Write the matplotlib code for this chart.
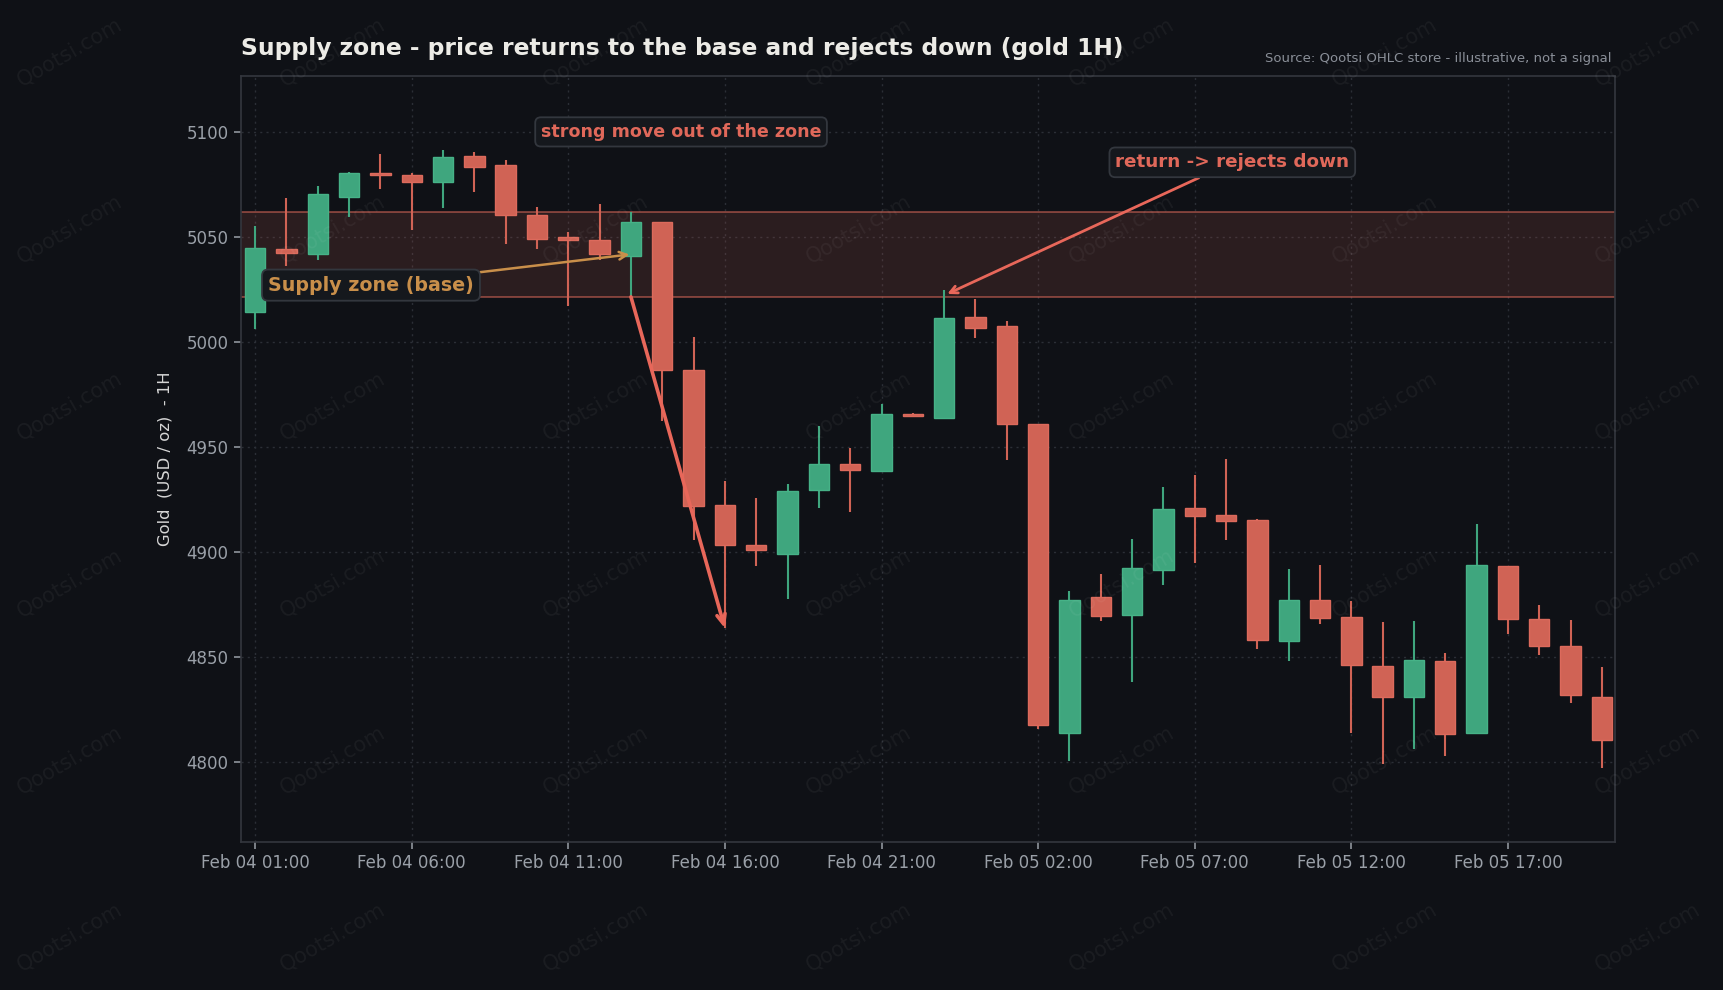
import numpy as np
import pandas as pd
import matplotlib
matplotlib.use("Agg")
import matplotlib.pyplot as plt
import matplotlib.dates as mdates

# --- OHLC data (gold, 1H) ---
times = pd.date_range("2026-02-04 01:00", periods=44, freq="h")
opens = [5014.0, 5044.4, 5041.6, 5069.2, 5080.6, 5079.7, 5075.9, 5088.3, 5084.4, 5060.2,
         5049.7, 5048.7, 5041.1, 5057.1, 4986.7, 4922.2, 4903.2, 4899.0, 4929.2, 4941.9,
         4938.6, 4965.6, 4963.8, 5011.7, 5007.5, 4960.8, 4813.8, 4878.5, 4870.0, 4891.4,
         4920.7, 4917.6, 4915.2, 4857.6, 4877.1, 4869.0, 4845.7, 4830.9, 4848.1, 4813.4,
         4893.2, 4868.1, 4855.2, 4831.0]
highs = [5055.1, 5068.7, 5074.1, 5080.8, 5089.7, 5080.2, 5091.3, 5090.6, 5086.8, 5064.0,
         5052.2, 5065.6, 5061.6, 5057.1, 5002.1, 4933.5, 4925.4, 4932.4, 4959.7, 4949.5,
         4970.5, 4965.9, 5024.8, 5020.2, 5009.7, 4961.0, 4881.4, 4889.5, 4905.9, 4931.0,
         4936.3, 4944.2, 4915.4, 4891.6, 4893.5, 4876.3, 4866.3, 4866.8, 4851.5, 4913.4,
         4893.4, 4874.4, 4867.3, 4844.9]
lows = [5006.2, 5036.2, 5039.0, 5059.5, 5072.9, 5053.3, 5063.8, 5071.4, 5046.7, 5044.3,
        5017.1, 5039.0, 5021.4, 4962.2, 4905.6, 4863.5, 4893.2, 4877.3, 4920.8, 4918.9,
        4938.4, 4964.5, 4963.6, 5001.6, 4943.5, 4815.7, 4800.2, 4866.9, 4837.7, 4884.2,
        4894.6, 4905.6, 4853.6, 4847.9, 4865.5, 4813.7, 4799.0, 4806.0, 4802.7, 4813.2,
        4860.6, 4850.6, 4827.9, 4797.0]
closes = [5044.9, 5042.5, 5070.2, 5080.6, 5079.7, 5076.3, 5088.1, 5083.5, 5060.2, 5049.2,
          5048.3, 5041.6, 5057.1, 4986.7, 4921.7, 4903.3, 4900.6, 4929.0, 4941.9, 4939.0,
          4965.6, 4964.8, 5011.3, 5006.7, 4961.0, 4817.3, 4877.1, 4869.5, 4892.4, 4920.4,
          4917.1, 4914.7, 4858.1, 4877.1, 4868.5, 4846.2, 4830.9, 4848.6, 4812.9, 4893.8,
          4867.8, 4855.2, 4831.9, 4810.5]

base_idx = 12        # base candle of the supply zone
retest_idx = 22      # candle that returns into the zone
impulse_end_idx = 15 # low of the move out of the zone

BG = "#0f1116"
GREEN = "#3fa67e"
GREEN_EDGE = "#46b287"
RED = "#d06355"
RED_EDGE = "#dc6a5c"
GRID = "#2b2f36"
SPINE = "#34373e"
TICK = "#9aa0a8"

x = mdates.date2num(times)
hour = 1 / 24
w = 0.65 * hour

fig = plt.figure(figsize=(17.24, 9.9), dpi=100, facecolor=BG)
ax = fig.add_axes([0.1398, 0.1495, 0.797, 0.7737])
ax.set_facecolor(BG)

# supply zone = range of the base candle
zone_lo = lows[base_idx]
zone_hi = highs[base_idx]
ax.axhspan(zone_lo, zone_hi, color=RED, alpha=0.15, lw=0, zorder=1)
ax.axhline(zone_lo, color=RED, alpha=0.6, lw=1.3, zorder=1.5)
ax.axhline(zone_hi, color=RED, alpha=0.6, lw=1.3, zorder=1.5)

# candles
for xi, o, h, l, c in zip(x, opens, highs, lows, closes):
    up = c >= o
    col = GREEN if up else RED
    ec = GREEN_EDGE if up else RED_EDGE
    ax.vlines(xi, l, h, color=col, lw=1.5, zorder=2)
    body = max(abs(c - o), 0.8)
    ax.bar(xi, body, width=w, bottom=min(o, c), color=col, edgecolor=ec, lw=1.0, zorder=3)

# axes styling
rng = max(highs) - min(lows)
ax.set_ylim(min(lows) - 0.12 * rng, max(highs) + 0.12 * rng)
ax.set_xlim(x[0] - 0.45 * hour, x[-1] + 0.42 * hour)
ax.set_yticks([4800, 4850, 4900, 4950, 5000, 5050, 5100])
ax.set_xticks(x[::5])
ax.xaxis.set_major_formatter(mdates.DateFormatter("%b %d %H:%M"))
ax.grid(True, color=GRID, ls=(0, (1.5, 3)), lw=1.0)
ax.set_axisbelow(True)
for s in ax.spines.values():
    s.set_color(SPINE)
    s.set_linewidth(1.2)
ax.tick_params(colors=TICK, labelsize=12, length=5, width=1.1, pad=4)
ax.set_ylabel("Gold  (USD / oz)  - 1H", color="#d6d6d6", fontsize=11.8, labelpad=10)

ax.set_title("Supply zone - price returns to the base and rejects down (gold 1H)",
             loc="left", color="#ecebe6", fontsize=16.8, fontweight="bold", pad=15)
fig.text(0.9345, 0.9405, "Source: Qootsi OHLC store - illustrative, not a signal",
         ha="right", va="center", color="#8a8f98", fontsize=9.5)

box = dict(boxstyle="round,pad=0.32", fc="#15181d", ec="#33373e", lw=1.3)

# base label
ax.annotate("Supply zone (base)", xy=(x[base_idx] - 0.05 * hour, opens[base_idx] + 0.5),
            xytext=(x[0] + 3.7 * hour, 5027.0), color="#c98f4a", fontsize=13.7,
            fontweight="bold", ha="center", va="center", bbox=box, zorder=6,
            arrowprops=dict(arrowstyle="->", color="#c98f4a", lw=1.8,
                            shrinkA=0, shrinkB=0))

# impulse out of the zone
ax.annotate("", xy=(x[impulse_end_idx], lows[impulse_end_idx]),
            xytext=(x[base_idx], zone_lo),
            arrowprops=dict(arrowstyle="->,head_width=0.3,head_length=0.7",
                            color="#e8675a", lw=2.6, shrinkA=0, shrinkB=0), zorder=6)
ax.text(x[0] + 13.6 * hour, 5100.0, "strong move out of the zone", color="#e0685a",
        fontsize=12.6, fontweight="bold", ha="center", va="center", bbox=box, zorder=6)

# return to the zone
ax.annotate("return -> rejects down", xy=(x[retest_idx] + 0.1 * hour, highs[retest_idx] - 2),
            xytext=(x[0] + 31.2 * hour, 5085.5), color="#e0685a", fontsize=13.2,
            fontweight="bold", ha="center", va="center", bbox=box, zorder=6,
            arrowprops=dict(arrowstyle="->", color="#e8675a", lw=2.0,
                            shrinkA=0, shrinkB=0))

# watermark
for cx in np.arange(70, 1724, 263):
    for cy in np.arange(52, 990, 177):
        fig.text(cx / 1724, 1 - cy / 990, "Qootsi.com", color="#ffffff", alpha=0.05,
                 fontsize=15, rotation=30, ha="center", va="center", zorder=20)

fig.savefig("out.png", dpi=100, facecolor=BG)
